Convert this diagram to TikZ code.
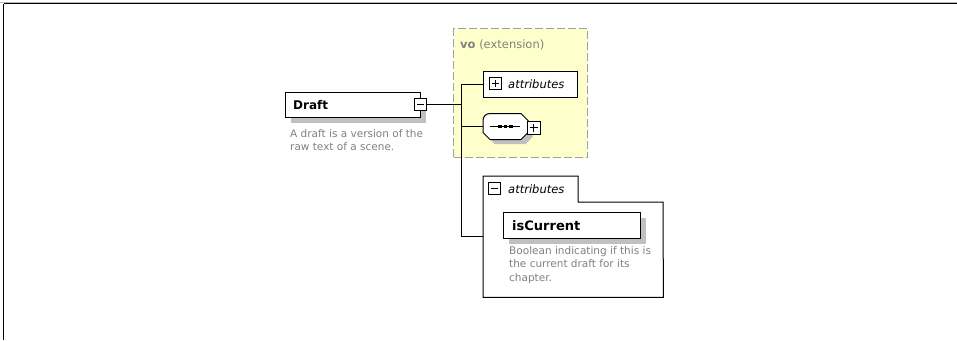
\documentclass[tikz,border=0pt]{standalone}
\usepackage{fontspec}
\setmainfont{DejaVu Sans}
\usetikzlibrary{shadows}
\definecolor{extfill}{HTML}{FFFFCC}
\definecolor{extline}{HTML}{A0A0A0}
\definecolor{shadowgray}{HTML}{C0C0C0}
\definecolor{desc}{HTML}{808080}
\tikzset{
  elembox/.style={draw=black, fill=white, line width=1pt, inner sep=0, anchor=north west},
  shade box/.style={drop shadow={shadow xshift=5pt, shadow yshift=-5pt, fill=shadowgray, opacity=1}},
  pmbox/.style={draw=black, fill=white, line width=0.8pt, minimum size=12pt, inner sep=0},
  minusbox/.style={pmbox, path picture={
      \draw[line width=0.8pt] ([xshift=2.5pt]path picture bounding box.west) -- ([xshift=-2.5pt]path picture bounding box.east);}},
  plusbox/.style={pmbox, path picture={
      \draw[line width=0.8pt] ([xshift=2.5pt]path picture bounding box.west) -- ([xshift=-2.5pt]path picture bounding box.east);
      \draw[line width=0.8pt] ([yshift=2.5pt]path picture bounding box.south) -- ([yshift=-2.5pt]path picture bounding box.north);}},
  txt/.style={inner sep=0, anchor=base west},
  elemname/.style={txt, font=\fontsize{12}{14}\selectfont\bfseries},
  grouplabel/.style={txt, font=\fontsize{11.5}{14}\selectfont\itshape},
  desctext/.style={inner sep=0, anchor=north west, text=desc, align=left,
    font=\fontsize{10.5}{13.8}\selectfont},
  conn/.style={draw=black, line width=1pt},
}
% outline of the sequence compositor (octagon, top-left corner rounded)
\newcommand\seqoutline{(490,113.5) -- (521,113.5) -- (528,120.5) -- (528,132.5)
  -- (521,139.5) -- (490,139.5) -- (483,132.5) -- (483,120.5)
  .. controls (483,116.5) and (486,113.5) .. (490,113.5) -- cycle}
\begin{document}
\begin{tikzpicture}[x=1pt, y=-1pt]
  \useasboundingbox (0,0) rectangle (957,340);
  % window frame
  \draw[gray!55, line width=1pt] (0,2) -- (957,2);
  \draw[black, line width=1.4pt] (3.5,3.5) -- (957,3.5);
  \draw[black, line width=1.4pt] (3.5,3.5) -- (3.5,340);

  % element Draft
  \node[elembox, shade box, minimum width=135pt, minimum height=25pt] (draft) at (285,92) {};
  \node[elemname] (draftname) at (293,109) {Draft};
  \node[minusbox] (draftminus) at (420.5,104.5) {};
  \node[desctext] (draftdesc) at (290,129) {A draft is a version of the\\raw text of a scene.};

  % extension base (vo)
  \node[draw=extline, fill=extfill, dash pattern=on 8pt off 3pt, line width=1pt,
        inner sep=0, anchor=north west, minimum width=134pt, minimum height=129pt] (ext) at (453,28) {};
  \node[txt, text=desc, font=\fontsize{11.5}{14}\selectfont] (extlabel) at (460,48)
        {\textbf{vo} (extension)};

  % inherited attributes
  \node[elembox, minimum width=94pt, minimum height=26pt] (extattr) at (483,71) {};
  \node[plusbox] (extattrplus) at (495.5,83.5) {};
  \node[grouplabel] (extattrlabel) at (508,88) {attributes};

  % sequence compositor
  \fill[shadowgray, shift={(4.5,4.5)}] \seqoutline;
  \draw[line width=1pt, fill=white] \seqoutline;
  \node[inner sep=0, minimum width=45pt, minimum height=26pt] (seq) at (505.5,126.5) {};
  \draw[line width=1pt] (490,126.5) -- (520,126.5);
  \foreach \dx in {-5.5,0,5.5}
    \fill ([xshift=\dx pt]seq.center) ++(-1.7,-1.7) rectangle ++(3.4,3.4);
  \node[plusbox, minimum size=13pt] (seqplus) at (533.5,127.5) {};

  % attribute group with tab
  \node[inner sep=0, anchor=north west, minimum width=180pt, minimum height=121pt] (grp) at (483,176) {};
  \draw[line width=1pt, fill=white] (grp.north west) -- (578,176) -- (578,202) -- (663,202)
        -- (grp.south east) -- (grp.south west) -- cycle;
  \node[minusbox] (grpminus) at (494.5,188.5) {};
  \node[grouplabel] (grplabel) at (508,193) {attributes};

  % attribute isCurrent
  \node[elembox, shade box, minimum width=137pt, minimum height=26pt] (iscur) at (503,212) {};
  \node[elemname, font=\fontsize{13}{15}\selectfont\bfseries] (iscurname) at (512,230) {isCurrent};
  \node[desctext] (iscurdesc) at (509,246) {Boolean indicating if this is\\the current draft for its\\chapter.};

  % connectors
  \coordinate (spinetop) at (461.5,84);
  \draw[conn] (draftminus.east) -- (draftminus.east -| spinetop);
  \draw[conn] (extattr.west) -| (spinetop) -- (spinetop |- grp.west) -- (grp.west);
  \draw[conn] (seq.west) -- (seq.west -| spinetop);
\end{tikzpicture}
\end{document}
